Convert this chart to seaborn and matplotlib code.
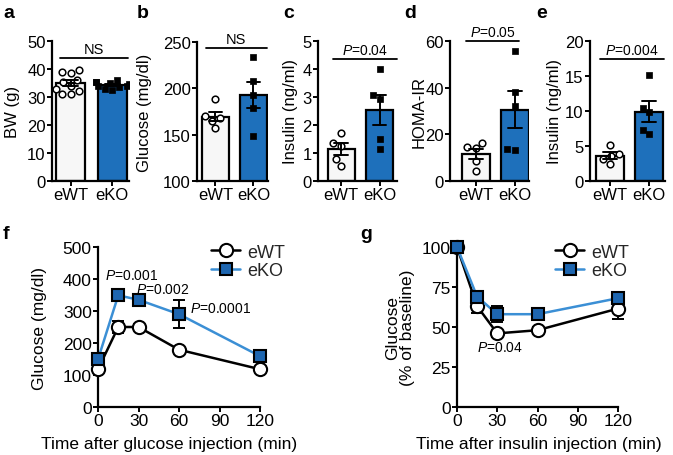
import numpy as np
import pandas as pd
import matplotlib
matplotlib.use('Agg')
import matplotlib.pyplot as plt
import seaborn as sns

sns.set_theme(style='ticks')
plt.rcParams['font.family'] = ['Liberation Sans', 'DejaVu Sans']
plt.rcParams['mathtext.fontset'] = 'custom'
plt.rcParams['mathtext.it'] = 'Liberation Sans:italic'
plt.rcParams['mathtext.rm'] = 'Liberation Sans'

# ---------------- data ----------------
groups = ['eWT', 'eKO']
bw_wt = [39.5, 38.5, 39.0, 36.0, 35.5, 34.0, 33.0, 31.0, 31.0, 32.0]
bw_ko = [36.0, 35.5, 35.0, 34.5, 34.0, 33.5, 33.0, 32.5, 35.5, 34.0]
glu_wt = [188, 170, 168, 165, 157]
glu_ko = [234, 208, 193, 179, 149]
ins_wt = [1.73, 1.37, 1.25, 0.77, 0.54]
ins_ko = [3.99, 3.06, 2.94, 1.51, 1.13]
homa_wt = [14.0, 14.5, 16.5, 8.5, 4.5]
homa_ko = [55.7, 38.0, 32.0, 13.6, 13.3]
ins2_wt = [5.2, 3.8, 3.6, 3.1, 2.4]
ins2_ko = [15.1, 10.5, 9.8, 7.3, 6.7]

time = [0, 15, 30, 60, 120]
gtt_wt = [118, 250, 250, 179, 118]
gtt_wt_se = [8, 20, 8, 8, 8]
gtt_ko = [149, 349, 335, 290, 159]
gtt_ko_se = [10, 10, 10, 44, 12]
itt_wt = [100, 63, 46, 48, 61.5]
itt_wt_se = [0, 4, 2, 2, 6.5]
itt_ko = [100, 69, 58, 58, 68]
itt_ko_se = [0, 2, 5, 3, 3]

BLUE = '#1e70bb'
LINEBLUE = '#3b8fd5'
SQBLUE = '#1e66b0'
FS_TOP = 12
FS_BOT = 12.5
FS_P = 10

W, H = 673, 456
fig = plt.figure(figsize=(W / 100, H / 100), dpi=100)


def px_rect(l, r, top, bottom):
    return [l / W, 1 - bottom / H, (r - l) / W, (bottom - top) / H]


def style_ax(ax, fs):
    sns.despine(ax=ax)
    for s in ['left', 'bottom']:
        ax.spines[s].set_linewidth(1.6)
        ax.spines[s].set_color('black')
    ax.tick_params(axis='both', direction='out', length=3.5, width=1.4,
                   labelsize=fs, colors='black', pad=1)


def bar_panel(rect, wt, ko, ylim, yticks, ylabel, xlim, label_x,
              sig_text, sig_x, sig_y, text_y):
    ax = fig.add_axes(rect)
    df = pd.DataFrame({'group': ['eWT'] * len(wt) + ['eKO'] * len(ko),
                       'value': wt + ko})
    sns.barplot(data=df, x='group', y='value', order=groups, hue='group',
                palette={'eWT': '#f7f7f7', 'eKO': BLUE}, errorbar='se', saturation=1,
                capsize=0.35, err_kws={'color': 'black', 'linewidth': 1.4, 'zorder': 6},
                edgecolor='black', linewidth=1.6, width=0.7, ax=ax, legend=False)
    sns.swarmplot(data=df[df.group == 'eWT'], x='group', y='value', order=groups,
                  marker='o', color='white', edgecolor='black', linewidth=1.1,
                  size=4.8, ax=ax, zorder=5)
    sns.swarmplot(data=df[df.group == 'eKO'], x='group', y='value', order=groups,
                  marker='s', color='black', edgecolor='black', linewidth=0.5,
                  size=4.8, ax=ax, zorder=5)
    ax.set_ylim(*ylim)
    ax.set_yticks(yticks)
    ax.set_xlim(*xlim)
    ax.set_xlabel('')
    ax.set_ylabel(ylabel, fontsize=FS_TOP, color='black')
    ax.yaxis.set_label_coords(label_x, 0.5)
    style_ax(ax, FS_TOP)
    ax.plot(sig_x, [sig_y, sig_y], color='black', lw=1.3, clip_on=False)
    ax.text(np.mean(sig_x), text_y, sig_text, ha='center', va='bottom',
            fontsize=FS_P if sig_text != 'NS' else FS_P + 0.5, color='black', clip_on=False)
    return ax


# top row
bar_panel(px_rect(52, 129, 42, 182), bw_wt, bw_ko, (0, 50), [0, 10, 20, 30, 40, 50],
          'BW (g)', (-0.45, 1.4), -0.41, 'NS', [-0.25, 1.38], 44, 44.6)
bar_panel(px_rect(197, 268, 43, 182), glu_wt, glu_ko, (100, 250), [100, 150, 200, 250],
          'Glucose (mg/dl)', (-0.48, 1.38), -0.63, 'NS', [-0.25, 1.35], 244, 245.5)
bar_panel(px_rect(318, 397, 42, 182), ins_wt, ins_ko, (0, 5), [0, 1, 2, 3, 4, 5],
          'Insulin (ng/ml)', (-0.6, 1.45), -0.25, r'$\it{P}$=0.04', [-0.2, 1.45], 4.35, 4.42)
bar_panel(px_rect(450, 529, 42, 182), homa_wt, homa_ko, (0, 60), [0, 20, 40, 60],
          'HOMA-IR', (-0.65, 1.35), -0.30, r'$\it{P}$=0.05', [-0.25, 1.1], 60, 60.8)
bar_panel(px_rect(590, 665, 42, 182), ins2_wt, ins2_ko, (0, 20), [0, 5, 10, 15, 20],
          'Insulin (ng/ml)', (-0.5, 1.4), -0.38, r'$\it{P}$=0.004', [-0.25, 1.38], 17.5, 17.75)


def line_panel(rect, wt, wt_se, ko, ko_se, ylim, yticks, ylabel, xlabel,
               label_x, xlabel_x, leg_x):
    ax = fig.add_axes(rect)
    ax.errorbar(time, wt, yerr=wt_se, fmt='none', ecolor='black', elinewidth=1.4,
                capsize=4, capthick=1.4, zorder=3, clip_on=False)
    ax.errorbar(time, ko, yerr=ko_se, fmt='none', ecolor='black', elinewidth=1.4,
                capsize=4, capthick=1.4, zorder=3, clip_on=False)
    sns.lineplot(x=time, y=wt, color='black', lw=1.8, marker='o', markersize=9.5,
                 markerfacecolor='white', markeredgecolor='black', markeredgewidth=1.5,
                 label='eWT', ax=ax, zorder=4, clip_on=False)
    sns.lineplot(x=time, y=ko, color=LINEBLUE, lw=1.8, marker='s', markersize=9,
                 markerfacecolor=SQBLUE, markeredgecolor='black', markeredgewidth=1.5,
                 label='eKO', ax=ax, zorder=5, clip_on=False)
    ax.set_xlim(0, 120)
    ax.set_xticks([0, 30, 60, 90, 120])
    ax.set_ylim(*ylim)
    ax.set_yticks(yticks)
    ax.set_ylabel(ylabel, fontsize=FS_BOT, color='black', linespacing=1.0)
    ax.yaxis.set_label_coords(label_x, 0.5)
    ax.set_xlabel(xlabel, fontsize=FS_BOT, color='black')
    ax.xaxis.set_label_coords(xlabel_x, -0.18)
    style_ax(ax, FS_BOT)
    ax.legend(loc='upper left', bbox_to_anchor=(leg_x, 1.02), frameon=False,
              fontsize=13, handlelength=1.6, handletextpad=0.4,
              labelspacing=0.08, borderaxespad=0, borderpad=0)
    return ax


axf = line_panel(px_rect(98, 260, 248, 408), gtt_wt, gtt_wt_se, gtt_ko, gtt_ko_se,
                 (0, 500), [0, 100, 200, 300, 400, 500], 'Glucose (mg/dl)',
                 'Time after glucose injection (min)', -0.315, 0.44, 0.70)
axf.text(25, 413, r'$\it{P}$=0.001', ha='center', va='center', fontsize=FS_P, color='black')
axf.text(48, 368, r'$\it{P}$=0.002', ha='center', va='center', fontsize=FS_P, color='black')
axf.text(68, 308, r'$\it{P}$=0.0001', ha='left', va='center', fontsize=FS_P, color='black')

axg = line_panel(px_rect(457, 618, 248, 408), itt_wt, itt_wt_se, itt_ko, itt_ko_se,
                 (0, 100), [0, 25, 50, 75, 100], 'Glucose\n(% of baseline)',
                 'Time after insulin injection (min)', -0.26, 0.51, 0.61)
axg.text(32, 37.5, r'$\it{P}$=0.04', ha='center', va='center', fontsize=FS_P, color='black')

# panel letters
for lab, x, y in [('a', 3, 13), ('b', 137, 13), ('c', 283, 13), ('d', 404, 13),
                  ('e', 536, 13), ('f', 3, 235), ('g', 360, 235)]:
    fig.text(x / W, 1 - y / H, lab, fontsize=14, fontweight='bold', va='center',
             ha='left', color='black')

fig.savefig('out.png', dpi=100)
